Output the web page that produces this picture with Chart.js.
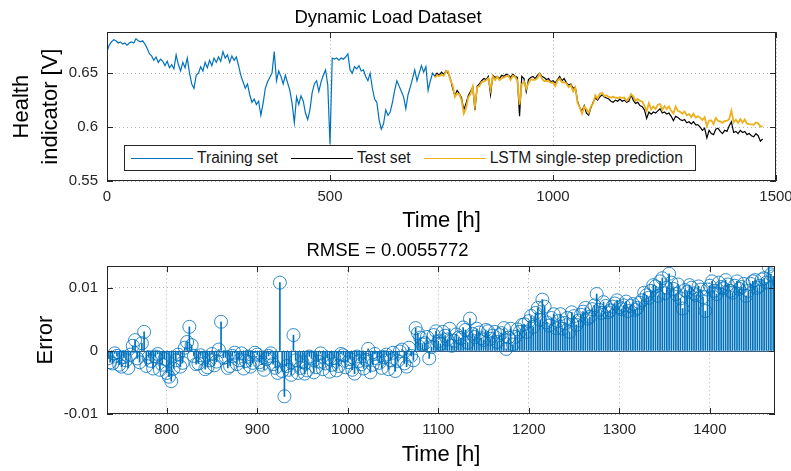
<!DOCTYPE html>
<html lang="en">
<head>
<meta charset="UTF-8">
<title>Dynamic Load Dataset</title>
<script src="https://cdn.jsdelivr.net/npm/chart.js"></script>
<style>
  body { margin: 0; background: #fff; font-family: 'Liberation Sans', Arial, sans-serif; }
  #wrap { position: relative; width: 791px; height: 471px; overflow: hidden; }
  canvas { position: absolute; left: 0; }
  #top { top: 0; }
  #bottom { top: 235px; }
  #legend {
    position: absolute; left: 124px; top: 145px; width: 572px; height: 26px;
    box-sizing: border-box; border: 1px solid #262626; background: #fff;
    display: flex; align-items: center; padding-left: 6px;
    font-size: 15.6px; color: #1a1a1a; z-index: 2; white-space: nowrap;
  }
  .item { display: flex; align-items: center; margin-right: 13px; }
  .swatch { width: 62px; height: 0; border-top: 1.5px solid; margin-right: 4px; }
</style>
</head>
<body>
<div id="wrap">
  <canvas id="top" width="791" height="235"></canvas>
  <canvas id="bottom" width="791" height="236"></canvas>
  <div id="legend">
    <div class="item"><span class="swatch" style="border-color:#0072BD"></span>Training set</div>
    <div class="item"><span class="swatch" style="border-color:#000"></span>Test set</div>
    <div class="item"><span class="swatch" style="border-color:#EDB120"></span>LSTM single-step prediction</div>
  </div>
</div>

<script>
  // sampling grid (hours)
  const trainStart = 0;
  const testStart = 735;
  const step = 5;

  // health indicator, training part (0 .. 735 h)
  const training = [
    0.670, 0.676, 0.679, 0.681, 0.680, 0.678, 0.679, 0.677, 0.678, 0.676,
    0.678, 0.679, 0.678, 0.682, 0.680, 0.679, 0.680, 0.677, 0.673, 0.668,
    0.666, 0.662, 0.665, 0.660, 0.663, 0.661, 0.657, 0.661, 0.655, 0.658,
    0.654, 0.667, 0.658, 0.652, 0.660, 0.655, 0.664, 0.650, 0.640, 0.636,
    0.648, 0.650, 0.656, 0.652, 0.660, 0.655, 0.662, 0.657, 0.664, 0.660,
    0.665, 0.661, 0.670, 0.664, 0.667, 0.660, 0.666, 0.662, 0.665, 0.657,
    0.648, 0.642, 0.636, 0.640, 0.630, 0.623, 0.626, 0.621, 0.624, 0.611,
    0.622, 0.636, 0.642, 0.646, 0.650, 0.670, 0.643, 0.652, 0.647, 0.640,
    0.648, 0.641, 0.634, 0.622, 0.604, 0.628, 0.621, 0.629, 0.624, 0.613,
    0.607, 0.616, 0.632, 0.640, 0.643, 0.633, 0.642, 0.648, 0.653, 0.639,
    0.584, 0.664, 0.663, 0.664, 0.662, 0.664, 0.663, 0.665, 0.668, 0.653,
    0.650, 0.656, 0.654, 0.657, 0.652, 0.653, 0.647, 0.643, 0.650, 0.636,
    0.626, 0.623, 0.607, 0.598, 0.603, 0.616, 0.611, 0.614, 0.623, 0.634,
    0.643, 0.638, 0.633, 0.628, 0.617, 0.630, 0.637, 0.645, 0.653, 0.643,
    0.650, 0.657, 0.651, 0.656, 0.634, 0.643, 0.650, 0.647
  ];

  // health indicator, test part (735 .. 1470 h)
  const test = [
    0.647, 0.650, 0.648, 0.651, 0.649, 0.652, 0.650, 0.645, 0.636, 0.629,
    0.634, 0.631, 0.627, 0.616, 0.622, 0.629, 0.633, 0.637, 0.616, 0.638,
    0.640, 0.643, 0.645, 0.644, 0.647, 0.630, 0.648, 0.646, 0.647, 0.645,
    0.648, 0.647, 0.649, 0.648, 0.646, 0.649, 0.647, 0.646, 0.610, 0.647,
    0.645, 0.633, 0.644, 0.646, 0.647, 0.645, 0.648, 0.650, 0.647, 0.646,
    0.644, 0.645, 0.642, 0.643, 0.641, 0.644, 0.647, 0.643, 0.645, 0.641,
    0.639, 0.640, 0.636, 0.637, 0.624, 0.618, 0.615, 0.620, 0.613, 0.611,
    0.618, 0.623, 0.627, 0.625, 0.628, 0.630, 0.628, 0.627, 0.626, 0.624,
    0.623, 0.625, 0.624, 0.626, 0.624, 0.625, 0.623, 0.624, 0.630, 0.625,
    0.622, 0.623, 0.620, 0.619, 0.616, 0.608, 0.614, 0.612, 0.614, 0.613,
    0.615, 0.617, 0.613, 0.614, 0.612, 0.613, 0.610, 0.606, 0.610, 0.609,
    0.607, 0.606, 0.607, 0.604, 0.605, 0.603, 0.605, 0.602, 0.602, 0.600,
    0.597, 0.599, 0.590, 0.597, 0.594, 0.593, 0.598, 0.599, 0.596, 0.594,
    0.597, 0.596, 0.601, 0.605, 0.595, 0.596, 0.594, 0.597, 0.595, 0.596,
    0.593, 0.594, 0.592, 0.591, 0.594, 0.592, 0.587, 0.589
  ];

  // prediction error (prediction - test), same grid as test
  const error = [
    -0.0012, -0.0020, -0.0008, -0.0025, -0.0015, -0.0006, 0.0017, -0.0018, 0.0030, -0.0010,
    -0.0028, -0.0005, -0.0022, -0.0035, -0.0048, -0.0015, -0.0025, 0.0005, 0.0038, -0.0008,
    -0.0020, -0.0012, -0.0026, -0.0005, -0.0017, 0.0046, -0.0010, -0.0024, -0.0003, -0.0015,
    -0.0028, -0.0009, -0.0019, -0.0006, -0.0022, -0.0013, -0.0004, -0.0027, 0.0108, -0.0072,
    -0.0030, 0.0025, -0.0035, -0.0018, -0.0031, -0.0012, -0.0026, -0.0004, -0.0020, -0.0033,
    -0.0011, -0.0024, -0.0007, -0.0018, -0.0030, -0.0009, -0.0021, -0.0014, -0.0034, -0.0005,
    -0.0019, -0.0010, -0.0029, -0.0003, -0.0016, 0.0002, -0.0025, -0.0008, 0.0036, 0.0021,
    0.0012, -0.0012, 0.0025, 0.0015, 0.0030, 0.0018, 0.0008, 0.0026, 0.0020, 0.0033,
    0.0051, 0.0022, 0.0029, 0.0017, 0.0031, 0.0024, 0.0014, 0.0028, 0.0003, 0.0035,
    0.0022, 0.0030, 0.0042, 0.0047, 0.0038, 0.0068, 0.0081, 0.0045, 0.0052, 0.0036,
    0.0058, 0.0044, 0.0030, 0.0055, 0.0048, 0.0062, 0.0051, 0.0066, 0.0090, 0.0060,
    0.0071, 0.0064, 0.0075, 0.0069, 0.0072, 0.0063, 0.0074, 0.0068, 0.0080, 0.0088,
    0.0095, 0.0102, 0.0110, 0.0091, 0.0122, 0.0098, 0.0105, 0.0067, 0.0093, 0.0100,
    0.0088, 0.0097, 0.0063, 0.0103, 0.0095, 0.0108, 0.0099, 0.0105, 0.0092, 0.0110,
    0.0101, 0.0087, 0.0106, 0.0112, 0.0103, 0.0115, 0.0133, 0.0118
  ];

  // extra error samples half-way between the test grid (737.5 .. 1467.5 h)
  const errorMid = [
    -0.0018, -0.0004, -0.0022, -0.0010, -0.0027, 0.0008, -0.0012, 0.0012, -0.0024, -0.0016,
    -0.0009, -0.0030, -0.0013, -0.0041, -0.0028, -0.0006, -0.0019, 0.0014, 0.0009, -0.0021,
    -0.0007, -0.0029, -0.0015, -0.0023, 0.0002, -0.0011, -0.0027, -0.0008, -0.0021, -0.0004,
    -0.0016, -0.0025, -0.0003, -0.0018, -0.0030, -0.0008, -0.0021, -0.0035, -0.0032, -0.0024,
    -0.0038, -0.0015, -0.0027, -0.0036, -0.0009, -0.0034, -0.0017, -0.0029, -0.0011, -0.0022,
    -0.0031, -0.0005, -0.0026, -0.0013, -0.0036, -0.0016, -0.0028, 0.0003, -0.0022, -0.0012,
    -0.0027, -0.0006, -0.0015, -0.0032, -0.0001, -0.0020, 0.0005, -0.0015, 0.0028, 0.0010,
    0.0022, 0.0006, 0.0031, 0.0011, 0.0024, 0.0035, 0.0016, 0.0021, 0.0037, 0.0013,
    0.0027, 0.0035, 0.0020, 0.0033, 0.0019, 0.0030, 0.0025, 0.0036, 0.0021, 0.0010,
    0.0034, 0.0041, 0.0030, 0.0055, 0.0060, 0.0049, 0.0070, 0.0040, 0.0058, 0.0047,
    0.0035, 0.0052, 0.0061, 0.0041, 0.0057, 0.0068, 0.0054, 0.0072, 0.0065, 0.0077,
    0.0061, 0.0070, 0.0080, 0.0066, 0.0078, 0.0071, 0.0065, 0.0076, 0.0092, 0.0084,
    0.0104, 0.0087, 0.0115, 0.0100, 0.0108, 0.0090, 0.0083, 0.0096, 0.0104, 0.0091,
    0.0102, 0.0085, 0.0097, 0.0110, 0.0090, 0.0101, 0.0112, 0.0095, 0.0103, 0.0098,
    0.0106, 0.0095, 0.0110, 0.0100, 0.0113, 0.0108, 0.0121
  ];

  // axes ticks
  const topXTicks = [0, 500, 1000, 1500];
  const topXLabels = ['0', '500', '1000', '1500'];
  const topYTicks = [0.55, 0.6, 0.65];
  const topYLabels = ['0.55', '0.6', '0.65'];
  const botXTicks = [800, 900, 1000, 1100, 1200, 1300, 1400];
  const botXLabels = ['800', '900', '1000', '1100', '1200', '1300', '1400'];
  const botYTicks = [-0.01, 0, 0.01];
  const botYLabels = ['-0.01', '0', '0.01'];

  const FONT = "'Liberation Sans', Arial, sans-serif";
  Chart.defaults.font.family = FONT;

  const trainPts = training.map((v, i) => ({ x: trainStart + i * step, y: v }));
  const testPts = test.map((v, i) => ({ x: testStart + i * step, y: v }));
  const predPts = test.map((v, i) => ({ x: testStart + i * step, y: v + error[i] }));
  const errPts = error.map((v, i) => ({ x: testStart + i * step, y: v }))
    .concat(errorMid.map((v, i) => ({ x: testStart + step / 2 + i * step, y: v })))
    .sort((a, b) => a.x - b.x);

  const tickColor = '#262626';
  const gridColor = 'rgba(38,38,38,0.35)';

  // MATLAB-like box with inner tick marks, optional baseline at y = 0
  const boxPlugin = {
    id: 'box',
    beforeDatasetsDraw(chart, args, opts) {
      if (!opts.baseline) return;
      const { ctx, chartArea: a, scales } = chart;
      const y0 = Math.round(scales.y.getPixelForValue(0)) + 0.5;
      ctx.save();
      ctx.strokeStyle = '#3d5f80';
      ctx.lineWidth = 1;
      ctx.beginPath();
      ctx.moveTo(a.left, y0);
      ctx.lineTo(a.right, y0);
      ctx.stroke();
      ctx.restore();
    },
    afterDraw(chart) {
      const { ctx, chartArea: a, scales } = chart;
      ctx.save();
      ctx.strokeStyle = tickColor;
      ctx.lineWidth = 1;
      ctx.strokeRect(Math.round(a.left) + 0.5, Math.round(a.top) + 0.5,
        Math.round(a.right - a.left) - 1, Math.round(a.bottom - a.top) - 1);
      ctx.beginPath();
      scales.x.ticks.forEach(t => {
        const p = Math.round(scales.x.getPixelForValue(t.value)) + 0.5;
        ctx.moveTo(p, a.bottom); ctx.lineTo(p, a.bottom - 6);
        ctx.moveTo(p, a.top); ctx.lineTo(p, a.top + 6);
      });
      scales.y.ticks.forEach(t => {
        const p = Math.round(scales.y.getPixelForValue(t.value)) + 0.5;
        ctx.moveTo(a.left, p); ctx.lineTo(a.left + 6, p);
        ctx.moveTo(a.right, p); ctx.lineTo(a.right - 6, p);
      });
      ctx.stroke();
      ctx.restore();
    }
  };

  function axisX(min, max, ticks, labels, height, titlePad) {
    return {
      type: 'linear', min: min, max: max, offset: false,
      afterFit: s => { s.height = height; s.paddingLeft = 0; s.paddingRight = 0; },
      afterBuildTicks: s => { s.ticks = ticks.map(v => ({ value: v })); },
      ticks: { color: tickColor, font: { size: 15 }, padding: 7, maxRotation: 0,
               autoSkip: false, callback: (v, i) => labels[i] },
      grid: { color: gridColor, drawTicks: false, offset: false },
      border: { display: false, dash: [1, 3] },
      title: { display: true, text: 'Time [h]', color: '#000',
               font: { size: 22 }, padding: { top: 0, bottom: titlePad } }
    };
  }

  function axisY(min, max, ticks, labels, title, titleFont, titlePad) {
    return {
      min: min, max: max,
      afterFit: s => { s.width = 107; },
      afterBuildTicks: s => { s.ticks = ticks.map(v => ({ value: v })); },
      ticks: { color: tickColor, font: { size: 15 }, padding: 9,
               autoSkip: false, callback: (v, i) => labels[i] },
      grid: { color: gridColor, drawTicks: false },
      border: { display: false, dash: [1, 3] },
      title: { display: true, text: title, color: '#000',
               font: titleFont, padding: { top: titlePad, bottom: 0 } }
    };
  }

  new Chart(document.getElementById('top'), {
    type: 'line',
    data: {
      datasets: [
        { label: 'Training set', data: trainPts, borderColor: '#0072BD', borderWidth: 1.2,
          pointRadius: 0, tension: 0, order: 2 },
        { label: 'Test set', data: testPts, borderColor: '#000000', borderWidth: 1.2,
          pointRadius: 0, tension: 0, order: 1 },
        { label: 'LSTM single-step prediction', data: predPts, borderColor: '#EDB120',
          borderWidth: 1.8, pointRadius: 0, tension: 0, order: 0 }
      ]
    },
    options: {
      responsive: false,
      animation: false,
      layout: { padding: { left: 0, right: 15, top: 0, bottom: 0 } },
      plugins: {
        legend: { display: false },
        tooltip: { enabled: false },
        title: { display: true, text: 'Dynamic Load Dataset', color: '#000',
                 font: { size: 18.5, weight: 'normal' }, padding: { top: 7, bottom: 3 } },
        box: { baseline: false }
      },
      scales: {
        x: axisX(0, 1500, topXTicks, topXLabels, 54, 1),
        y: axisY(0.55, 0.688, topYTicks, topYLabels, ['Health', 'indicator [V]'],
                 { size: 22, lineHeight: 1.32 }, 7.5)
      }
    },
    plugins: [boxPlugin]
  });

  new Chart(document.getElementById('bottom'), {
    type: 'bar',
    data: {
      datasets: [
        { type: 'scatter', label: 'Error', data: errPts, pointStyle: 'circle', pointRadius: 6.5,
          borderColor: 'rgba(0,114,189,0.8)', backgroundColor: 'rgba(0,0,0,0)',
          borderWidth: 1, order: 0 },
        { type: 'bar', label: 'Stem', data: errPts, backgroundColor: '#0072BD',
          barThickness: 1, order: 1 }
      ]
    },
    options: {
      responsive: false,
      animation: false,
      layout: { padding: { left: 0, right: 16, top: 0, bottom: 0 } },
      plugins: {
        legend: { display: false },
        tooltip: { enabled: false },
        title: { display: true, text: 'RMSE = 0.0055772', color: '#000',
                 font: { size: 18.5, weight: 'normal' }, padding: { top: 5, bottom: 4 } },
        box: { baseline: true }
      },
      scales: {
        x: axisX(734, 1472, botXTicks, botXLabels, 57, 3),
        y: axisY(-0.01, 0.0134, botYTicks, botYLabels, 'Error', { size: 22 }, 33)
      }
    },
    plugins: [boxPlugin]
  });
</script>
</body>
</html>
